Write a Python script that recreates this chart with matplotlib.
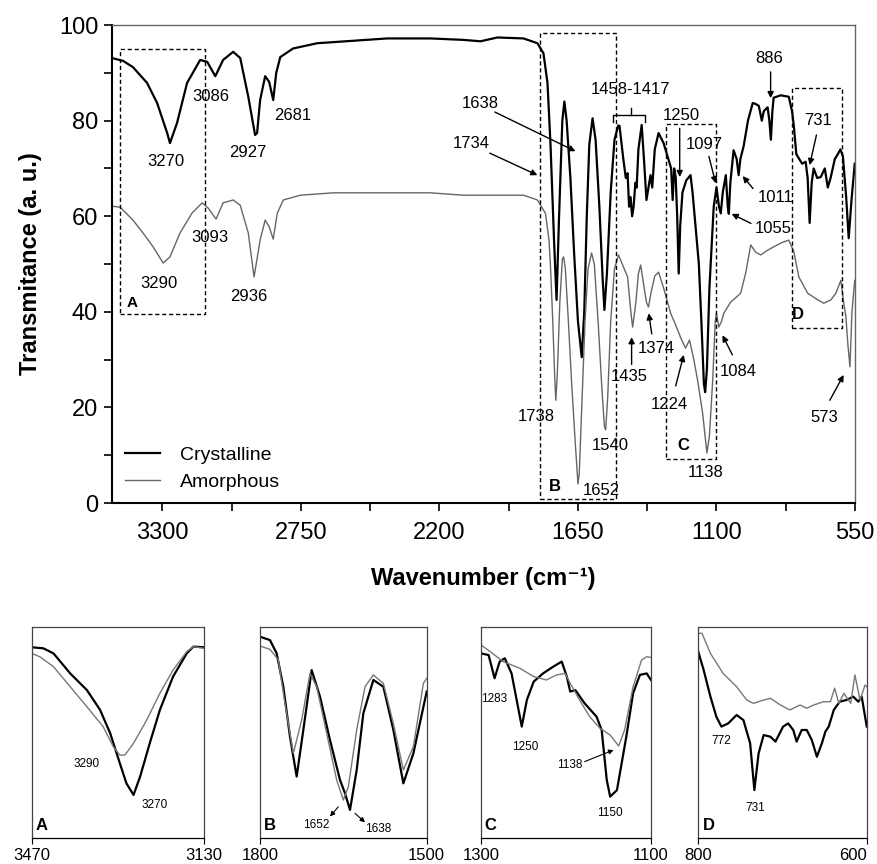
import numpy as np
import matplotlib
matplotlib.use("Agg")
import matplotlib.pyplot as plt
from matplotlib.ticker import MultipleLocator

plt.rcParams['font.family'] = ['Liberation Sans', 'DejaVu Sans']

# ==========================================================
# MAIN SPECTRA
# ==========================================================

cryst_wn = [3500, 3456, 3417, 3361, 3321, 3281, 3270, 3242, 3202, 3150, 3122, 3090,
            3059, 3019, 2991, 2959, 2932, 2924, 2912, 2892, 2876, 2860, 2848, 2832,
            2781, 2685, 2487, 2407, 2236, 2105, 2037, 1970, 1866, 1811, 1787, 1771,
            1759, 1745, 1735, 1725, 1712, 1704, 1695, 1680, 1665, 1650, 1635, 1625,
            1615, 1605, 1592, 1580, 1565, 1552, 1545, 1535, 1520, 1505, 1490, 1485,
            1470, 1460, 1453, 1447, 1441, 1435, 1429, 1422, 1417, 1410, 1397, 1388,
            1378, 1370, 1362, 1355, 1345, 1330, 1310, 1290, 1280, 1274, 1268, 1262,
            1256, 1250, 1244, 1235, 1220, 1203, 1195, 1183, 1170, 1160, 1150, 1145,
            1138, 1128, 1115, 1111, 1100, 1090, 1083, 1075, 1063, 1055, 1051, 1045,
            1032, 1020, 1012, 1005, 992, 975, 956, 945, 932, 920, 912, 897,
            890, 884, 878, 873, 845, 813, 800, 793, 783, 773, 760, 746,
            738, 730, 722, 714, 700, 686, 670, 658, 646, 630, 618, 608,
            598, 585, 575, 563, 551]
cryst_t = [93.1, 92.5, 91.2, 87.9, 83.7, 77.4, 75.3, 79.5, 87.9, 92.7, 92.3, 89.3,
           92.7, 94.4, 93.1, 85.0, 77.0, 77.4, 84.3, 89.3, 88.1, 84.3, 90.0, 93.3,
           95.1, 96.2, 96.9, 97.2, 97.2, 96.9, 96.6, 97.4, 97.2, 96.2, 94.1, 87.9,
           75.0, 55.0, 42.5, 60.0, 80.0, 84.0, 80.0, 68.0, 52.0, 38.0, 30.5, 40.0,
           60.0, 75.0, 80.5, 76.0, 62.0, 47.0, 40.4, 48.0, 65.0, 76.0, 79.0, 78.9,
           72.0, 68.0, 69.0, 62.0, 64.0, 60.0, 62.0, 67.0, 66.0, 74.0, 79.1, 72.0,
           63.4, 66.0, 68.6, 66.0, 74.0, 77.4, 75.3, 71.8, 70.0, 63.4, 70.0, 68.2,
           60.0, 48.0, 58.0, 65.0, 67.5, 68.6, 65.0, 57.8, 50.0, 38.0, 25.0, 23.2,
           28.0, 45.0, 58.0, 62.0, 66.0, 62.0, 60.6, 65.0, 68.6, 62.0, 60.5, 67.0,
           73.8, 72.0, 68.6, 72.0, 74.7, 80.0, 83.7, 83.5, 83.1, 80.0, 82.0, 82.8,
           80.0, 76.0, 82.0, 84.8, 85.3, 85.0, 82.0, 79.0, 73.0, 72.1, 71.0, 71.4,
           68.0, 58.6, 67.0, 70.0, 68.0, 68.2, 70.0, 66.0, 68.2, 72.0, 73.0, 74.0,
           72.5, 64.0, 55.4, 64.0, 71.0]

amorph_wn = [3500, 3468, 3417, 3377, 3337, 3297, 3270, 3230, 3182, 3142, 3118, 3087,
             3059, 3019, 2991, 2959, 2936, 2912, 2892, 2876, 2860, 2844, 2820, 2753,
             2622, 2236, 2105, 1970, 1866, 1811, 1779, 1765, 1759, 1750, 1742, 1738,
             1732, 1722, 1712, 1707, 1700, 1688, 1675, 1660, 1650, 1645, 1635, 1622,
             1610, 1596, 1585, 1570, 1555, 1545, 1540, 1532, 1520, 1505, 1489, 1453,
             1440, 1433, 1420, 1410, 1401, 1390, 1378, 1370, 1360, 1345, 1330, 1310,
             1282, 1260, 1243, 1223, 1207, 1190, 1175, 1155, 1138, 1128, 1115, 1105,
             1100, 1091, 1080, 1071, 1044, 1004, 984, 964, 945, 924, 900, 873,
             840, 813, 793, 773, 738, 698, 674, 646, 626, 606, 595, 586,
             578, 570, 562, 551]
amorph_t = [62.1, 61.9, 59.2, 56.5, 53.6, 50.2, 51.5, 56.5, 60.7, 62.8, 61.7, 59.4,
            62.8, 63.4, 62.3, 56.5, 47.3, 55.0, 59.2, 57.8, 55.2, 60.6, 63.4, 64.4,
            64.9, 64.9, 64.4, 64.4, 64.4, 63.4, 60.6, 55.0, 49.4, 38.0, 26.0, 21.5,
            27.0, 42.0, 51.0, 51.5, 49.0, 38.0, 25.0, 12.0, 4.0, 6.0, 20.0, 38.0,
            49.0, 52.3, 50.0, 38.0, 24.0, 16.0, 15.3, 22.0, 38.0, 49.0, 51.9, 47.3,
            40.0, 36.8, 42.0, 48.0, 49.8, 46.0, 42.0, 41.0, 44.0, 47.5, 48.3, 45.0,
            39.7, 37.0, 34.7, 32.4, 34.1, 30.0, 25.7, 18.8, 10.5, 14.0, 25.7, 38.0,
            39.7, 36.8, 38.0, 39.7, 42.0, 43.9, 48.1, 54.0, 52.5, 51.9, 52.8, 53.6,
            54.5, 55.0, 52.6, 47.3, 43.9, 42.5, 41.8, 42.5, 43.9, 46.6, 42.0, 38.9,
            33.0, 28.5, 40.0, 46.6]

# ==========================================================
# INSET SPECTRA (own scale, 0-100)
# ==========================================================

a_wn_c = [3470, 3447, 3427, 3394, 3361, 3335, 3315, 3296, 3283, 3269, 3256, 3237, 3217, 3191, 3164, 3151, 3130]
a_c = [90.4, 89.9, 87.5, 78.0, 70.1, 60.7, 49.6, 35.4, 25.9, 20.4, 29.1, 44.9, 60.7, 76.5, 87.5, 90.7, 90.4]
a_wn_a = [3470, 3454, 3427, 3394, 3361, 3329, 3309, 3296, 3286, 3269, 3243, 3217, 3191, 3164, 3151, 3130]
a_a = [87.5, 85.9, 81.2, 71.7, 62.2, 52.8, 43.3, 39.3, 39.3, 44.9, 55.9, 68.6, 79.6, 88.3, 90.7, 89.9]

b_wn_c = [1800, 1782, 1770, 1758, 1746, 1734, 1722, 1707, 1692, 1674, 1656, 1647, 1638, 1626, 1614, 1596, 1578, 1560, 1542, 1524, 1500]
b_c = [95.4, 93.8, 87.5, 71.7, 48.0, 29.1, 51.2, 79.6, 67.0, 46.4, 27.5, 21.2, 13.3, 32.2, 59.1, 74.9, 71.7, 51.2, 25.9, 40.1, 69.4]
b_wn_a = [1800, 1782, 1767, 1755, 1740, 1725, 1710, 1698, 1680, 1662, 1650, 1641, 1626, 1611, 1596, 1578, 1560, 1542, 1524, 1506, 1500]
b_a = [91.0, 89.4, 84.4, 63.8, 40.1, 55.9, 78.0, 71.7, 49.6, 27.5, 18.0, 24.3, 51.2, 71.7, 77.3, 73.3, 54.3, 32.2, 43.3, 73.3, 75.7]

c_wn_c = [1300, 1291, 1284, 1278, 1272, 1264, 1258, 1252, 1246, 1238, 1227, 1215, 1205, 1199, 1195, 1189,
          1178, 1164, 1158, 1152, 1148, 1140, 1129, 1121, 1113, 1105, 1100]
c_c = [87.5, 86.7, 75.7, 83.6, 85.2, 78.0, 65.4, 52.8, 65.4, 74.1, 78.0, 81.2, 83.6, 76.5, 69.4, 70.1,
       63.8, 57.5, 51.2, 27.5, 19.6, 22.7, 48.0, 68.6, 77.3, 78.0, 74.9]
c_wn_a = [1300, 1289, 1274, 1254, 1238, 1223, 1211, 1201, 1195, 1184, 1172, 1160, 1148, 1138, 1131, 1121, 1111, 1105, 1100]
c_a = [91.5, 88.3, 83.6, 80.4, 76.5, 74.9, 77.3, 78.0, 73.3, 65.4, 57.5, 52.0, 48.8, 43.6, 51.2, 71.7, 84.4, 85.9, 85.6]

d_wn_c = [800, 793, 785, 778, 772, 764, 754, 746, 738, 733, 728, 722, 714, 708, 699, 693, 687, 683, 677, 671,
          665, 659, 653, 649, 645, 639, 632, 624, 616, 610, 606, 600]
d_c = [89.1, 79.6, 67.0, 57.5, 52.8, 54.3, 58.3, 55.9, 44.9, 22.7, 40.1, 48.8, 48.0, 45.7, 52.8, 54.3, 51.2, 45.7, 51.2, 51.2,
       46.4, 38.5, 45.0, 50.4, 52.8, 60.7, 64.6, 65.4, 67.0, 64.6, 67.0, 52.8]
d_wn_a = [800, 795, 785, 770, 754, 742, 734, 722, 714, 702, 691, 679, 671, 663, 651, 643, 638, 633, 627, 619, 614, 608, 602, 600]
d_a = [97.0, 97.0, 87.5, 78.0, 71.7, 65.4, 63.8, 65.4, 66.2, 63.0, 60.7, 63.0, 61.5, 63.0, 64.6, 64.6, 71.0, 63.8, 68.6, 63.8,
       77.3, 65.4, 72.5, 71.7]

# ==========================================================
# FIGURE
# ==========================================================

fig = plt.figure(figsize=(8.78, 8.64), dpi=100)

ax = fig.add_axes([0.1276, 0.4178, 0.8462, 0.5532])

ax.plot(cryst_wn, cryst_t, color="black", lw=1.6, label="Crystalline")
ax.plot(amorph_wn, amorph_t, color="#666666", lw=1.0, label="Amorphous")

ax.set_xlim(3500, 550)
ax.set_ylim(0, 100)

ax.xaxis.set_major_locator(MultipleLocator(550))
ax.xaxis.set_minor_locator(MultipleLocator(275))
ax.yaxis.set_major_locator(MultipleLocator(20))
ax.yaxis.set_minor_locator(MultipleLocator(10))

ax.tick_params(which="both", direction="out", length=6, width=1.2, labelsize=17)
ax.tick_params(axis="x", pad=8)
ax.tick_params(axis="y", pad=4)

for s in ["left", "bottom"]:
    ax.spines[s].set_linewidth(1.5)
for s in ["top", "right"]:
    ax.spines[s].set_linewidth(1.0)
    ax.spines[s].set_color("#666666")

ax.set_ylabel("Transmitance (a. u.)", fontsize=17, fontweight="bold", labelpad=12)
ax.set_xlabel("Wavenumber (cm\u207b\u00b9)", fontsize=17, fontweight="bold", labelpad=16)

ax.legend(loc="lower left", bbox_to_anchor=(0.018, 0.025), frameon=False,
          fontsize=14, handlelength=1.8, handletextpad=1.0, labelspacing=0.5,
          borderpad=0, borderaxespad=0)

# dashed boxes
boxes = [("A", 3470, 3130, 39.5, 95.0, 3420, 41.8, 11),
         ("B", 1800, 1500, 0.8, 98.3, 1740, 3.5, 12),
         ("C", 1300, 1100, 9.2, 79.3, 1230, 12.0, 12),
         ("D", 800, 600, 36.6, 86.8, 775, 39.5, 12)]
for name, x0, x1, y0, y1, lx, ly, fs in boxes:
    ax.plot([x0, x1, x1, x0, x0], [y0, y0, y1, y1, y0], color="black",
            lw=1.0, ls=(0, (3, 2)))
    ax.text(lx, ly, name, fontsize=fs, fontweight="bold", ha="center", va="center")

# peak labels
labels = [("3270", 3285, 71.5), ("3086", 3107, 85.1), ("2927", 2959, 73.4),
          ("2681", 2781, 81.0), ("3290", 3313, 46.0), ("3093", 3110, 55.6),
          ("2936", 2959, 43.3), ("1638", 2037, 83.5), ("1734", 2073, 75.3),
          ("1458-1417", 1441, 86.6), ("1250", 1239, 81.0), ("1097", 1147, 75.1),
          ("886", 889, 93.0), ("731", 698, 80.0), ("1011", 865, 64.0),
          ("1055", 873, 57.5), ("1738", 1815, 18.2), ("1652", 1556, 2.7),
          ("1540", 1521, 12.1), ("1435", 1445, 26.4), ("1374", 1338, 32.4),
          ("1224", 1286, 20.7), ("1084", 1012, 27.6), ("1138", 1143, 6.3),
          ("573", 674, 17.8)]
for txt, x, y in labels:
    ax.text(x, y, txt, fontsize=12, ha="center", va="center")

arrows = [((1980, 81.8), (1660, 73.6)), ((2000, 73.2), (1811, 68.6)),
          ((1246, 78.4), (1246, 68.2)), ((1130, 72.5), (1103, 66.9)),
          ((885, 90.2), (885, 84.7)), ((703, 77.0), (730, 70.7)),
          ((955, 65.8), (996, 68.4)), ((963, 58.5), (1040, 60.5)),
          ((1437, 29.0), (1437, 34.7)), ((1357, 35.4), (1369, 39.7)),
          ((1262, 24.5), (1230, 31.0)), ((1037, 31.0), (1076, 35.1)),
          ((650, 21.5), (595, 26.8))]
for tail, head in arrows:
    ax.annotate("", xy=head, xytext=tail,
                arrowprops=dict(arrowstyle="-|>", color="black", lw=1.0,
                                mutation_scale=9, shrinkA=0, shrinkB=0))

# bracket over 1458-1417
ax.plot([1509, 1509, 1382, 1382], [79.7, 81.2, 81.2, 79.7], color="black", lw=1.0)
ax.plot([1441, 1441], [81.2, 82.6], color="black", lw=1.0)

# ==========================================================
# INSETS
# ==========================================================

insets = [
    ([0.0361, 0.0301, 0.1962, 0.2442], (3470, 3130), a_wn_c, a_c, a_wn_a, a_a, "A", 3450,
     [("3290", 3361, 35.0), ("3270", 3227, 15.6)], []),
    ([0.2961, 0.0301, 0.1899, 0.2442], (1800, 1500), b_wn_c, b_c, b_wn_a, b_a, "B", 1782,
     [("1652", 1698, 6.2), ("1638", 1587, 4.1)],
     [((1659, 14.8), (1674, 10.2)), ((1629, 11.7), (1611, 7.4))]),
    ([0.5478, 0.0301, 0.1936, 0.2442], (1300, 1100), c_wn_c, c_c, c_wn_a, c_a, "C", 1289,
     [("1283", 1285, 65.7), ("1250", 1248, 43.3), ("1138", 1195, 34.6), ("1150", 1148, 11.7)],
     [((1178, 36.2), (1144, 41.7))]),
    ([0.7947, 0.0301, 0.1925, 0.2442], (800, 600), d_wn_c, d_c, d_wn_a, d_a, "D", 787,
     [("772", 772, 46.1), ("731", 732, 14.1)], []),
]

for rect, xl, wc, vc, wa, va_, name, nx, labs, arrs in insets:
    iax = fig.add_axes(rect)
    iax.plot(wc, vc, color="black", lw=1.6)
    iax.plot(wa, va_, color="#777777", lw=1.0)
    iax.set_xlim(*xl)
    iax.set_ylim(0, 100)
    iax.set_xticks(list(xl))
    iax.set_yticks([])
    iax.tick_params(axis="x", direction="out", length=4, labelsize=12, pad=3)
    for s in iax.spines.values():
        s.set_linewidth(0.9)
        s.set_color("#444444")
    iax.spines["bottom"].set_color("black")
    iax.text(nx, 6.0, name, fontsize=12, fontweight="bold", ha="center", va="center")
    for txt, x, y in labs:
        iax.text(x, y, txt, fontsize=8.5, ha="center", va="center")
    for tail, head in arrs:
        iax.annotate("", xy=head, xytext=tail,
                     arrowprops=dict(arrowstyle="-|>", color="black", lw=0.8,
                                     mutation_scale=7, shrinkA=0, shrinkB=0))

# keep the last inset's right tick label inside the figure
iax.get_xticklabels()[-1].set_horizontalalignment("right")

plt.savefig("out.png", dpi=100)
